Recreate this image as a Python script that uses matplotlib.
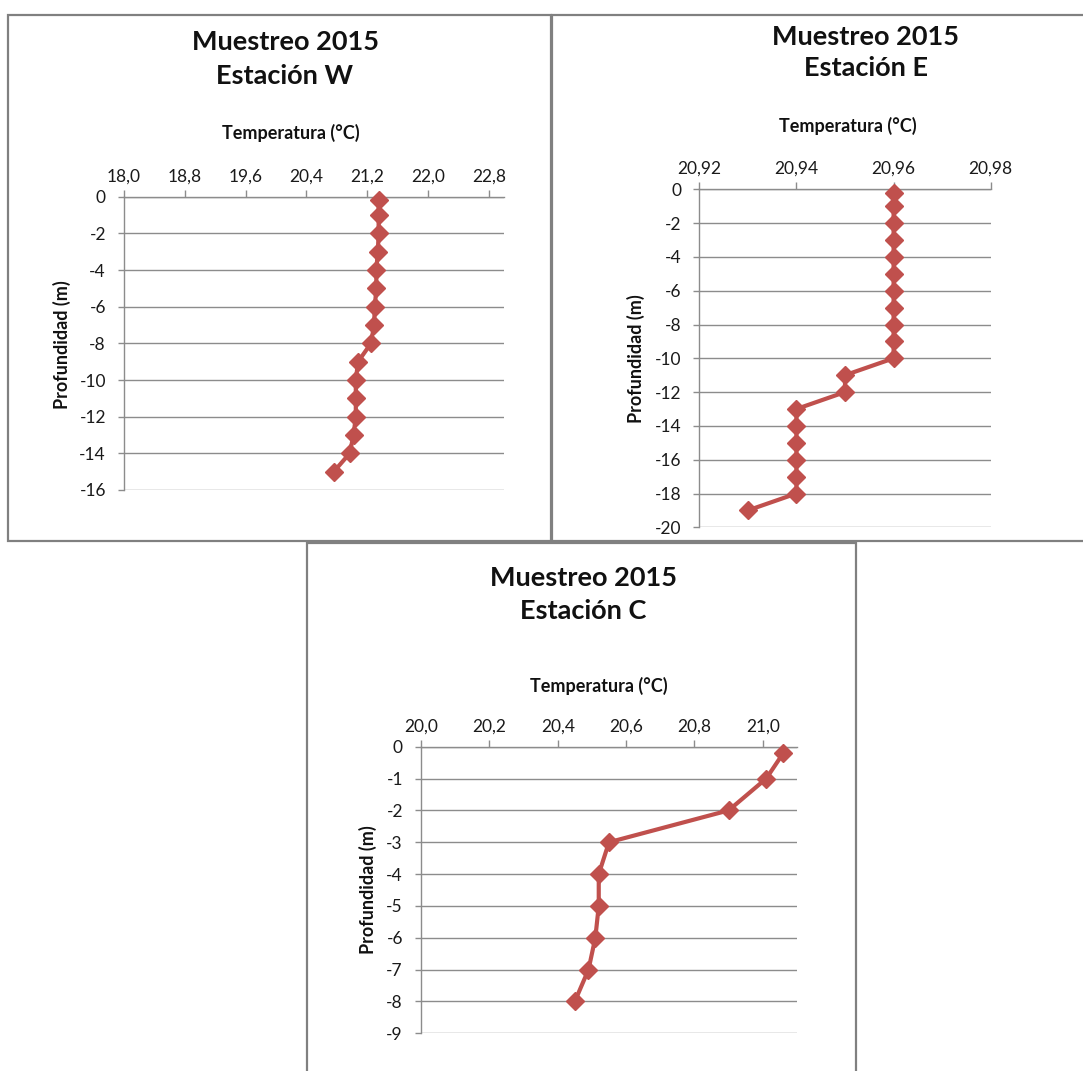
import matplotlib
matplotlib.use("Agg")
import matplotlib.pyplot as plt
from matplotlib.patches import Rectangle
from matplotlib.ticker import FixedLocator, FixedFormatter

plt.rcParams['font.family'] = ['Lato', 'DejaVu Sans']

# ---------------- data ----------------
title_top = "Muestreo 2015"
xlabel_txt = "Temperatura (°C)"
ylabel_txt = "Profundidad (m)"

# Station W
w_depth = [-0.2, -1, -2, -3, -4, -5, -6, -7, -8, -9, -10, -11, -12, -13, -14, -15]
w_temp = [21.35, 21.35, 21.35, 21.34, 21.32, 21.32, 21.30, 21.29, 21.25,
          21.08, 21.05, 21.05, 21.05, 21.02, 20.97, 20.76]
w_xticks = [18.0, 18.8, 19.6, 20.4, 21.2, 22.0, 22.8]
w_xticklabels = ["18,0", "18,8", "19,6", "20,4", "21,2", "22,0", "22,8"]
w_yticks = [0, -2, -4, -6, -8, -10, -12, -14, -16]

# Station E
e_depth = [-0.2, -1, -2, -3, -4, -5, -6, -7, -8, -9, -10,
           -11, -12, -13, -14, -15, -16, -17, -18, -19]
e_temp = [20.96, 20.96, 20.96, 20.96, 20.96, 20.96, 20.96, 20.96, 20.96, 20.96, 20.96,
          20.95, 20.95, 20.94, 20.94, 20.94, 20.94, 20.94, 20.94, 20.93]
e_xticks = [20.92, 20.94, 20.96, 20.98]
e_xticklabels = ["20,92", "20,94", "20,96", "20,98"]
e_yticks = [0, -2, -4, -6, -8, -10, -12, -14, -16, -18, -20]

# Station C
c_depth = [-0.2, -1, -2, -3, -4, -5, -6, -7, -8]
c_temp = [21.06, 21.01, 20.90, 20.55, 20.52, 20.52, 20.51, 20.49, 20.45]
c_xticks = [20.0, 20.2, 20.4, 20.6, 20.8, 21.0]
c_xticklabels = ["20,0", "20,2", "20,4", "20,6", "20,8", "21,0"]
c_yticks = [0, -1, -2, -3, -4, -5, -6, -7, -8, -9]

# ---------------- layout ----------------
W, H = 1083, 1071
fig = plt.figure(figsize=(W / 100, H / 100), dpi=100)
fig.patch.set_facecolor('white')

LINE = '#C0504D'
GRID = '#8C8C8C'
BORDER = '#808080'


def fx(x):
    return x / W


def fy(y):
    return 1 - y / H


def border(x0, y0, x1, y1):
    fig.add_artist(Rectangle((fx(x0), fy(y1)), (x1 - x0) / W, (y1 - y0) / H,
                             transform=fig.transFigure, fill=False,
                             edgecolor=BORDER, linewidth=1.6, zorder=0))


def panel(box, xlim, ylim, temps, depths, xticks, xlabels, yticks,
          title2, title_xy, xlab_xy, ylab_xy):
    x0, y0, x1, y1 = box
    ax = fig.add_axes([fx(x0), fy(y1), (x1 - x0) / W, (y1 - y0) / H])
    ax.set_facecolor('none')
    ax.plot(temps, depths, color=LINE, linewidth=3.0, marker='D',
            markersize=9, markerfacecolor=LINE, markeredgecolor=LINE,
            clip_on=False, zorder=3)
    ax.set_xlim(*xlim)
    ax.set_ylim(*ylim)
    ax.xaxis.set_major_locator(FixedLocator(xticks))
    ax.xaxis.set_major_formatter(FixedFormatter(xlabels))
    ax.yaxis.set_major_locator(FixedLocator(yticks))
    ax.yaxis.set_major_formatter(FixedFormatter([str(v) for v in yticks]))
    ax.xaxis.set_ticks_position('top')
    ax.xaxis.set_label_position('top')
    for s in ['right', 'bottom']:
        ax.spines[s].set_visible(False)
    for s in ['top', 'left']:
        ax.spines[s].set_color(GRID)
        ax.spines[s].set_linewidth(1.0)
    ax.tick_params(axis='x', direction='out', length=5, width=1.0, color=GRID,
                   pad=4, labelsize=12.5, labelcolor='#1a1a1a')
    ax.tick_params(axis='y', direction='out', length=4, width=1.0, color=GRID,
                   pad=9, labelsize=12.5, labelcolor='#1a1a1a')
    ax.yaxis.grid(True, color=GRID, linewidth=1.0)
    ax.xaxis.grid(False)
    ax.set_axisbelow(True)
    # titles and labels
    tx, ty1, ty2 = title_xy
    fig.text(fx(tx), fy(ty1), title_top, ha='center', va='center',
             fontsize=19.5, fontweight='bold', color='#111111')
    fig.text(fx(tx), fy(ty2), title2, ha='center', va='center',
             fontsize=19.5, fontweight='bold', color='#111111')
    fig.text(fx(xlab_xy[0]), fy(xlab_xy[1]), xlabel_txt, ha='center', va='center',
             fontsize=13, fontweight='bold', color='#111111')
    fig.text(fx(ylab_xy[0]), fy(ylab_xy[1]), ylabel_txt, ha='center', va='center',
             rotation=90, fontsize=13, fontweight='bold', color='#111111')
    return ax


# panel borders
border(8, 15, 551, 541)
border(552, 15, 1090, 541)
border(307, 543, 856, 1080)

panel((124, 196.7, 504, 490), (18.0, 23.0), (-16, 0), w_temp, w_depth,
      w_xticks, w_xticklabels, w_yticks, "Estación W",
      (285, 42, 76), (291, 133), (62, 345))

panel((699.3, 189.3, 990.7, 527.3), (20.92, 20.98), (-20, 0), e_temp, e_depth,
      e_xticks, e_xticklabels, e_yticks, "Estación E",
      (866, 37, 68), (848, 126), (636, 359))

panel((421, 746.7, 797, 1033.3), (20.0, 21.1), (-9, 0), c_temp, c_depth,
      c_xticks, c_xticklabels, c_yticks, "Estación C",
      (583, 578, 611), (599, 686), (368, 890))

fig.savefig("out.png", dpi=100, facecolor='white')
